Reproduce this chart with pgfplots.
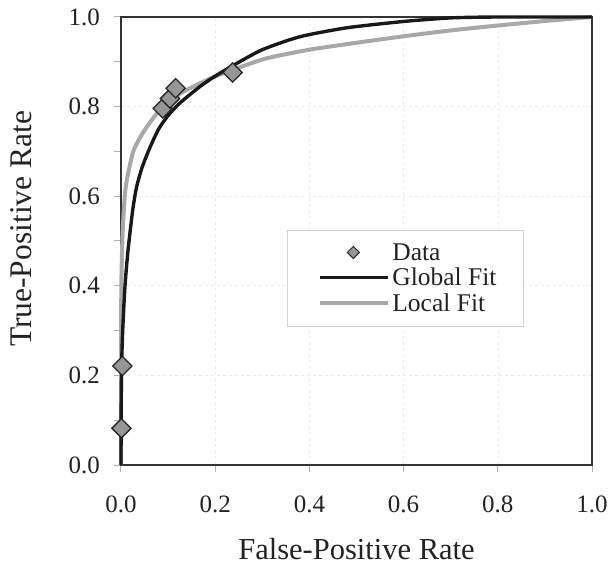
\documentclass[border=0pt]{standalone}
\usepackage{fontspec}
\setmainfont{Liberation Serif}
\usepackage{pgfplots}
\pgfplotsset{compat=1.18}
\definecolor{lgray}{RGB}{168,168,168}
\definecolor{mgray}{RGB}{150,150,150}
\definecolor{txt}{RGB}{35,35,35}
\pgfplotsset{
  mylineleg/.style={legend image code/.code={\path (0pt,0pt); \draw[##1] (6pt,0pt) -- (74pt,0pt);}},
  mymarkleg/.style={legend image code/.code={\path (0pt,0pt) (74pt,0pt); \draw[##1] plot coordinates {(39pt,0pt)};}},
}
\begin{document}
\begin{tikzpicture}
\begin{axis}[
  name=ax,
  scale only axis,
  width=471pt, height=448pt,
  xmin=0, xmax=1, ymin=0, ymax=1,
  xtick={0,0.2,...,1.0}, ytick={0,0.2,...,1.0},
  minor ytick={0.1,0.3,0.5,0.7,0.9},
  /pgf/number format/fixed,
  /pgf/number format/fixed zerofill,
  /pgf/number format/precision=1,
  /pgf/number format/assume math mode=true,
  ticklabel style={font=\fontsize{25}{28}\selectfont, text=txt},
  xticklabel style={anchor=center, inner sep=0pt, yshift=-32pt},
  yticklabel style={anchor=east, inner sep=0pt, xshift=-14pt},
  xlabel={False-Positive Rate},
  ylabel={True-Positive Rate},
  xlabel style={font=\fontsize{30.5}{34}\selectfont, text=txt, at={(axis description cs:0.5,0)}, anchor=base, yshift=-94pt, inner sep=0pt},
  ylabel style={font=\fontsize{31.5}{34}\selectfont, text=txt, at={(axis description cs:0,0.527)}, anchor=base, yshift=89pt, inner sep=0pt},
  tick align=outside, tick pos=left,
  major tick length=7pt, minor tick length=7pt,
  tick style={gray!60, line width=1pt},
  axis line style={black!80, line width=1.3pt},
  grid=major,
  major grid style={gray!15, dashed, line width=0.6pt},
  legend style={at={(0.3524,0.5246)}, anchor=north west, draw=gray!35, line width=0.8pt,
    font=\fontsize{25.5}{28}\selectfont, text=txt, row sep=2.5pt, inner xsep=25pt, inner ysep=11pt,
    column sep=0pt},
  legend cell align=left,
  clip=false,
]
\addlegendimage{mymarkleg, only marks, mark=square*, mark options={rotate=45}, mark size=4.3pt, fill=mgray, draw=black!85, line width=1pt}
\addlegendentry{Data}
\addlegendimage{mylineleg, black!90, line width=3.6pt}
\addlegendentry{Global Fit}
\addlegendimage{mylineleg, lgray, line width=4pt}
\addlegendentry{Local Fit}

\addplot[lgray, line width=4pt, smooth, tension=0.4, forget plot] coordinates {
(0,0) (0.0002,0.3) (0.001,0.42) (0.0035,0.52) (0.0085,0.607) (0.015,0.65)
(0.026,0.70) (0.04,0.73) (0.055,0.755) (0.08,0.79) (0.1,0.81) (0.132,0.833)
(0.19,0.863) (0.25,0.887) (0.31,0.908) (0.4,0.927) (0.49,0.941) (0.6,0.957)
(0.7,0.97) (0.8,0.981) (0.9,0.991) (1,1)};
\addplot[black!90, line width=3.4pt, smooth, tension=0.4, forget plot] coordinates {
(0,0) (0.0005,0.15) (0.002,0.25) (0.004,0.31) (0.0085,0.40) (0.015,0.48)
(0.025,0.57) (0.033,0.62) (0.045,0.665) (0.062,0.71) (0.08,0.75) (0.1,0.78)
(0.125,0.808) (0.168,0.845) (0.2,0.868) (0.24,0.893) (0.3,0.927) (0.38,0.956)
(0.48,0.976) (0.6,0.99) (0.7,0.998) (0.8,1.0) (1,1)};
\addplot[only marks, mark=square*, mark options={rotate=45}, mark size=6.8pt, fill=mgray, draw=black!85, line width=1.3pt, forget plot] coordinates {
(0.001,0.082) (0.003,0.221) (0.0885,0.796) (0.104,0.818) (0.116,0.841) (0.237,0.876)};
\end{axis}
\path ([xshift=-121pt,yshift=-102pt]ax.south west) rectangle ([xshift=20pt,yshift=17pt]ax.north east);
\end{tikzpicture}
\end{document}
